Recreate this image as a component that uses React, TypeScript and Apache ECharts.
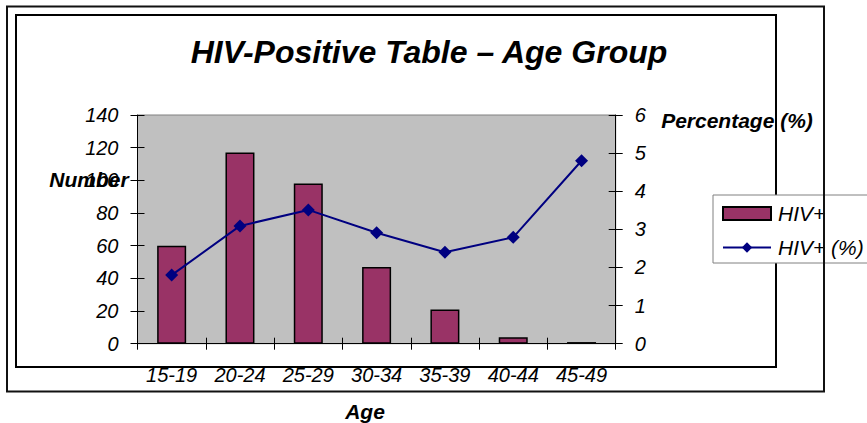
import React, { useEffect, useRef } from "react";
import * as echarts from "echarts";

const ageGroups = ["15-19", "20-24", "25-29", "30-34", "35-39", "40-44", "45-49"];
const hivCounts = [60, 117, 98, 47, 21, 4, 1];
const hivPercent = [1.8, 3.09, 3.51, 2.91, 2.4, 2.79, 4.8];
const titleText = "HIV-Positive Table – Age Group";

const FONT = "'Liberation Sans', Arial, sans-serif";

export default function App() {
  const ref = useRef<HTMLDivElement>(null);
  useEffect(() => {
    if (!ref.current) return;
    const chart = echarts.init(ref.current, undefined, { renderer: "svg" });
    const labelStyle = { color: "#000", fontFamily: FONT, fontStyle: "italic", fontSize: 20 };
    const tickStyle = { lineStyle: { color: "#000", width: 1 } };
    chart.setOption({
      animation: false,
      backgroundColor: "#fff",
      textStyle: { fontFamily: FONT },
      grid: {
        left: 137.5,
        top: 115,
        right: 251.3,
        bottom: 79.3,
        show: true,
        backgroundColor: "#C0C0C0",
        borderColor: "#808080",
        borderWidth: 1,
      },
      legend: {
        orient: "vertical",
        left: 713,
        top: 195,
        padding: [8, 30, 5, 9],
        itemGap: 13,
        itemWidth: 48,
        itemHeight: 13,
        backgroundColor: "#fff",
        borderColor: "#808080",
        borderWidth: 1,
        z: 10,
        textStyle: { ...labelStyle, fontSize: 21, padding: [0, 0, 0, 2] },
        data: [{ name: "HIV+", icon: "rect" }, { name: "HIV+ (%)" }],
      },
      xAxis: [
        {
          type: "category",
          data: ageGroups,
          position: "bottom",
          axisLine: { show: true, lineStyle: { color: "#000", width: 1 } },
          axisTick: { show: true, length: 6, ...tickStyle },
          axisLabel: { ...labelStyle, margin: 21 },
        },
        {
          type: "category",
          data: ageGroups,
          position: "bottom",
          axisLine: { show: false },
          axisTick: { show: true, inside: true, length: 6, ...tickStyle },
          axisLabel: { show: false },
        },
      ],
      yAxis: [
        {
          type: "value",
          min: 0,
          max: 140,
          interval: 20,
          position: "left",
          splitLine: { show: false },
          axisLine: { show: true, lineStyle: { color: "#000", width: 1 } },
          axisTick: { show: true, length: 7, ...tickStyle },
          axisLabel: { ...labelStyle, margin: 19 },
        },
        {
          type: "value",
          min: 0,
          max: 6,
          interval: 1,
          position: "right",
          splitLine: { show: false },
          axisLine: { show: true, lineStyle: { color: "#000", width: 1 } },
          axisTick: { show: true, length: 7, ...tickStyle },
          axisLabel: { ...labelStyle, margin: 19 },
        },
        {
          type: "value",
          min: 0,
          max: 140,
          interval: 20,
          position: "left",
          splitLine: { show: false },
          axisLine: { show: false },
          axisTick: { show: true, inside: true, length: 7, ...tickStyle },
          axisLabel: { show: false },
        },
        {
          type: "value",
          min: 0,
          max: 6,
          interval: 1,
          position: "right",
          splitLine: { show: false },
          axisLine: { show: false },
          axisTick: { show: true, inside: true, length: 7, ...tickStyle },
          axisLabel: { show: false },
        },
      ],
      series: [
        {
          name: "HIV+",
          type: "bar",
          xAxisIndex: 0,
          yAxisIndex: 0,
          data: hivCounts,
          barWidth: 29,
          itemStyle: { color: "#993366", borderColor: "#000", borderWidth: 1.5 },
        },
        {
          name: "HIV+ (%)",
          type: "line",
          xAxisIndex: 0,
          yAxisIndex: 1,
          data: hivPercent,
          symbol: "diamond",
          symbolSize: 13,
          lineStyle: { color: "#000080", width: 2 },
          itemStyle: { color: "#000080" },
          z: 5,
        },
      ],
      graphic: [
        {
          type: "rect",
          z: 0,
          silent: true,
          shape: { x: 16, y: 15, width: 760, height: 352 },
          style: { fill: "none", stroke: "#000", lineWidth: 2 },
        },
        {
          type: "rect",
          z: 100,
          silent: true,
          shape: { x: 7, y: 6.5, width: 817, height: 385 },
          style: { fill: "none", stroke: "#111", lineWidth: 2 },
        },
        {
          type: "text",
          z: 50,
          x: 429,
          y: 52,
          style: {
            text: titleText,
            fill: "#000",
            font: `italic bold 32px ${FONT}`,
            textAlign: "center",
            textVerticalAlign: "middle",
          },
        },
        {
          type: "text",
          z: 50,
          x: 89,
          y: 179,
          style: {
            text: "Number",
            fill: "#000",
            font: `italic bold 21px ${FONT}`,
            textAlign: "center",
            textVerticalAlign: "middle",
          },
        },
        {
          type: "text",
          z: 50,
          x: 737,
          y: 120,
          style: {
            text: "Percentage (%)",
            fill: "#000",
            font: `italic bold 21px ${FONT}`,
            textAlign: "center",
            textVerticalAlign: "middle",
          },
        },
        {
          type: "text",
          z: 50,
          x: 365,
          y: 411,
          style: {
            text: "Age",
            fill: "#000",
            font: `italic bold 21px ${FONT}`,
            textAlign: "center",
            textVerticalAlign: "middle",
          },
        },
      ],
    });
    return () => chart.dispose();
  }, []);
  return (
    <div
      ref={ref}
      style={{ position: "fixed", left: 0, top: 0, width: 867, height: 423 }}
    />
  );
}
